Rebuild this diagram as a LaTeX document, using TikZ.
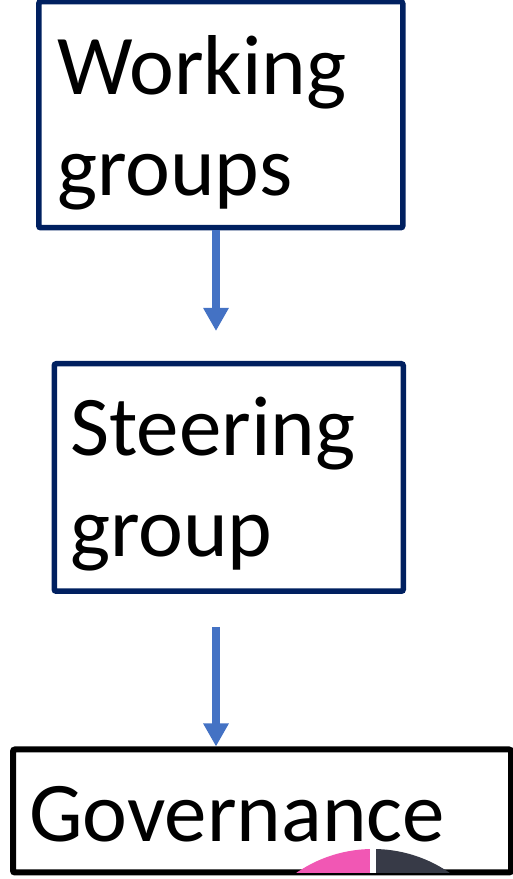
\documentclass[tikz,border=0pt]{standalone}
\usepackage{fontspec}
\setmainfont{Carlito}
\usetikzlibrary{arrows.meta}
\definecolor{navy}{HTML}{002060}
\definecolor{flowblue}{HTML}{4472C4}
\definecolor{piepink}{HTML}{F157B4}
\definecolor{piedark}{HTML}{373A47}
\tikzset{
  box/.style={draw=navy, line width=5.5pt, rounded corners=2pt, anchor=south west, inner sep=0pt},
  caption/.style={anchor=base west, inner sep=0pt, align=left, font=\fontsize{85}{101}\selectfont},
  flow/.style={draw=flowblue, line width=8pt, -{Triangle[width=24pt,length=23pt]}}
}
\begin{document}
\begin{tikzpicture}[x=1pt,y=1pt]
  \useasboundingbox (0,0) rectangle (512,879);
  % boxes
  \node[box, minimum width=364pt, minimum height=226pt] (wg) at (36,648.5) {};
  \node[box, minimum width=349pt, minimum height=227.5pt] (sg) at (51.5,285) {};
  \node[box, draw=black, line width=6pt, minimum width=498pt, minimum height=123pt] (gov) at (10,3.5) {};
  % pie peeking into the last box
  \begin{scope}
    \clip ([shift={(3pt,3pt)}]gov.south west) rectangle ([shift={(-3pt,-3pt)}]gov.north east);
    \fill[piepink] (373,-105) -- (373,30) arc[start angle=90, end angle=180, radius=135] -- cycle;
    \fill[piedark] (373,-105) -- (373,30) arc[start angle=90, end angle=0, radius=135] -- cycle;
    \draw[white, line width=6pt] (373,-105) -- (373,35);
  \end{scope}
  % labels (base = last line)
  \node[caption] (wgtext) at (57,683) {Working\\groups};
  \node[caption] (sgtext) at (70,322) {Steering\\group};
  \node[caption] (govtext) at (29,37) {Governance};
  % arrows
  \draw[flow, shorten >=30pt] (wg.south -| 216,0) -- (sg.north -| 216,0);
  \draw[flow, shorten <=33pt] (sg.south -| 216,0) -- (gov.north -| 216,0);
\end{tikzpicture}
\end{document}
